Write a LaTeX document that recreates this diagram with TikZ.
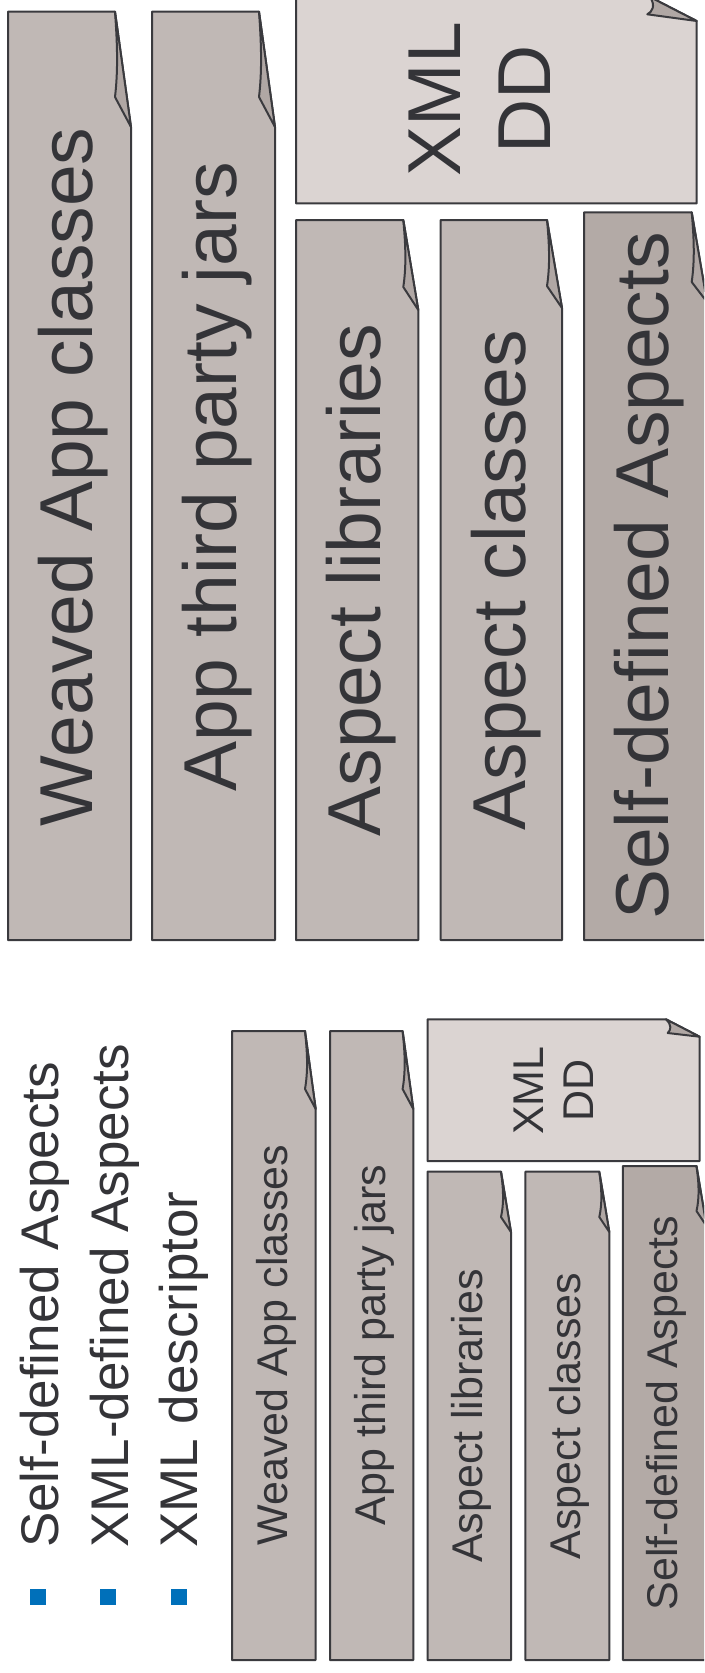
\documentclass[tikz,border=0pt]{standalone}
\usepackage{fontspec}
\setmainfont{Liberation Sans}
\definecolor{stripc}{RGB}{192,184,181}
\definecolor{stripdark}{RGB}{179,170,166}
\definecolor{xmlc}{RGB}{219,212,210}
\definecolor{flapc}{RGB}{176,167,164}
\definecolor{linec}{RGB}{58,58,62}
\definecolor{textc}{RGB}{52,52,56}
\definecolor{bulletc}{RGB}{0,112,186}
\tikzset{
  stripline/.style={draw=linec, line width=2pt, line join=round},
  txt/.style={text=textc, inner sep=0pt, rotate=90},
  bulletbox/.style={fill=bulletc, minimum size=16pt, inner sep=0pt, draw=none},
}
\newcommand{\bigf}{\fontsize{75}{90}\selectfont}
\newcommand{\smallf}{\fontsize{43}{50}\selectfont}
\newcommand{\legf}{\fontsize{53}{64}\selectfont}
% L T R B f Fb d fill
\newcommand{\fstrip}[8]{%
  \filldraw[stripline, fill=#8] (#1,#2) -- (#3-#5,#2) -- (#3,#6) -- (#3,#4) -- (#1,#4) -- cycle;
  \filldraw[stripline, fill=flapc] (#3-#5,#2) -- (#3,#6) -- (#3-#5,#6-#7)
     .. controls (#3-#5+3,#6-#7-0.3*#6+0.3*#7+0.3*#2) and (#3-#5+2.5,#2+0.4*#6-0.4*#7-0.4*#2) .. (#3-#5,#2) -- cycle;
}
\begin{document}
\begin{tikzpicture}[x=1pt,y=-1pt]
\clip (0,0) rectangle (704,1673);
\fill[white] (0,0) rectangle (704,1673);

% ---------- top section ----------
\fstrip{8}{11.7}{131}{940}{16}{127}{30}{stripc}
\fstrip{152}{11.7}{275}{940}{16}{127}{30}{stripc}
\fstrip{296}{220}{418.3}{940}{15}{310}{23}{stripc}
\fstrip{440.7}{220}{562}{940}{15}{308}{22}{stripc}
\fstrip{584}{212.3}{707}{940}{15.3}{302}{20}{stripdark}

% XML big document
\filldraw[stripline, fill=xmlc] (296,-3) -- (650,-3) -- (696.7,21) -- (696.7,203.3) -- (296,203.3) -- cycle;
\filldraw[stripline, fill=flapc] (650,-3) -- (696.7,21) -- (647.3,14.3) .. controls (652,12) and (656,6) .. (650,-3) -- cycle;

\node[txt, font=\bigf, anchor=base] (tA) at (92,477) {Weaved App classes};
\node[txt, font=\bigf, anchor=base] (tB) at (236,477) {App third party jars};
\node[txt, font=\bigf, anchor=base] (tC) at (380,580) {Aspect libraries};
\node[txt, font=\bigf, anchor=base] (tD) at (525,580) {Aspect classes};
\node[txt, font=\bigf, anchor=base] (tE) at (668,576) {Self-defined Aspects};
\node[txt, font=\bigf, anchor=base] (tX1) at (460,99) {XML};
\node[txt, font=\bigf, anchor=base] (tX2) at (550,99) {DD};

% ---------- bottom section ----------
\fstrip{232}{1031}{315.7}{1660}{10.7}{1109}{20}{stripc}
\fstrip{330}{1031}{413.3}{1660}{10.7}{1109}{20}{stripc}
\fstrip{427.5}{1171.7}{511}{1660}{10}{1232}{15}{stripc}
\fstrip{525.4}{1171.7}{609.3}{1660}{10}{1232}{15}{stripc}
\fstrip{622.8}{1166}{706.5}{1660}{10}{1226}{15}{stripdark}

% XML small document
\filldraw[stripline, fill=xmlc] (427.5,1019.3) -- (666,1019.3) -- (699.6,1036.7) -- (699.6,1161) -- (427.5,1161) -- cycle;
\filldraw[stripline, fill=flapc] (666,1019.3) -- (699.6,1036.7) -- (667.7,1033) .. controls (671,1030) and (672,1025) .. (666,1019.3) -- cycle;

\node[txt, font=\smallf, anchor=base] (ba) at (287,1345) {Weaved App classes};
\node[txt, font=\smallf, anchor=base] (bb) at (385,1345) {App third party jars};
\node[txt, font=\smallf, anchor=base] (bc) at (482.5,1416) {Aspect libraries};
\node[txt, font=\smallf, anchor=base] (bd) at (580.4,1416) {Aspect classes};
\node[txt, font=\smallf, anchor=base] (be) at (677.8,1413) {Self-defined Aspects};
\node[txt, font=\smallf, anchor=base] (bX1) at (543.3,1090.5) {XML};
\node[txt, font=\smallf, anchor=base] (bX2) at (593.6,1090) {DD};

% ---------- legend ----------
\node[bulletbox] (bul1) at (38,1597) {};
\node[bulletbox] (bul2) at (108,1597) {};
\node[bulletbox] (bul3) at (179,1597) {};
\node[txt, font=\legf, anchor=base west] (lg1) at (58,1548) {Self-defined Aspects};
\node[txt, font=\legf, anchor=base west] (lg2) at (128,1548) {XML-defined Aspects};
\node[txt, font=\legf, anchor=base west] (lg3) at (197.6,1548) {XML descriptor};
\end{tikzpicture}
\end{document}
